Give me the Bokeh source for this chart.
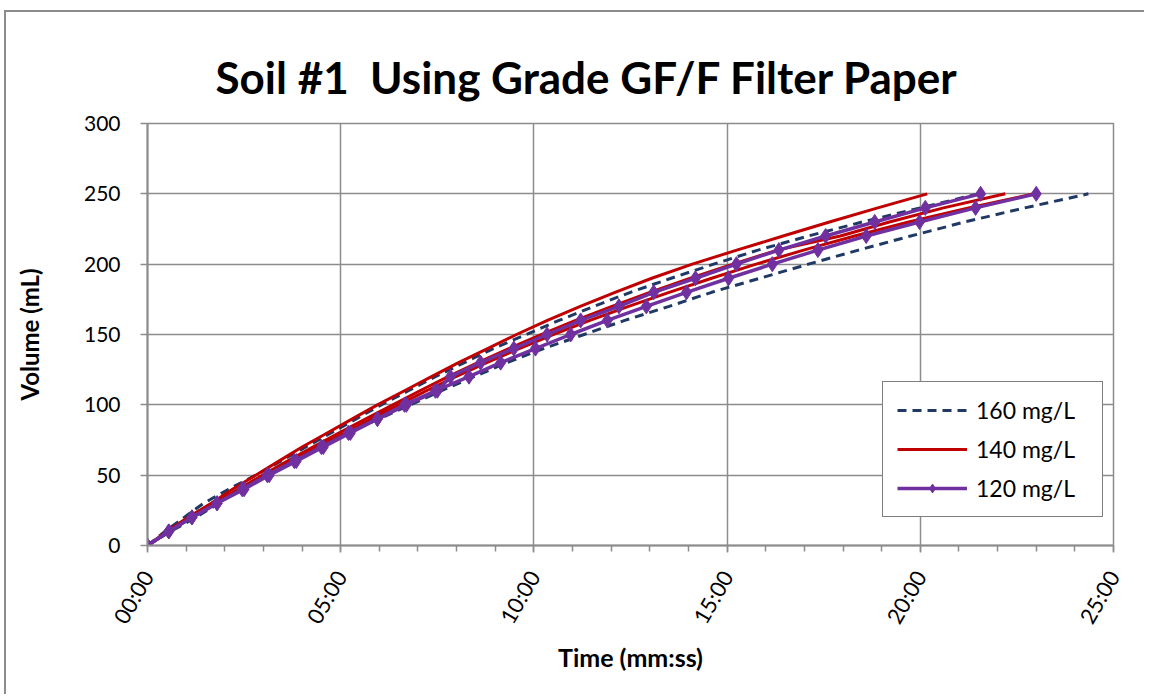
import math
from bokeh.plotting import figure
from bokeh.models import Range1d, FixedTicker, Legend, LegendItem
from bokeh.embed import file_html
from bokeh.resources import INLINE

# ---------------- data (time in minutes, volume in mL) ----------------
title_text = "Soil #1\u00a0 Using Grade GF/F Filter Paper"
x_title = "Time (mm:ss)"
y_title = "Volume (mL)"
x_ticks = [0, 5, 10, 15, 20, 25]
x_tick_labels = ["00:00", "05:00", "10:00", "15:00", "20:00", "25:00"]
x_minor_ticks = [0, 1, 2, 3, 4, 5, 6, 7, 8, 9, 10, 11, 12, 13, 14, 15, 16, 17, 18, 19, 20, 21, 22, 23, 24, 25]
y_ticks = [0, 50, 100, 150, 200, 250, 300]

volume = [0, 10, 20, 30, 40, 50, 60, 70, 80, 90, 100, 110, 120, 130, 140, 150,
          160, 170, 180, 190, 200, 210, 220, 230, 240, 250]

# 160 mg/L (two runs, dashed navy)
t160_a = [0, 0.45, 0.95, 1.45, 2.1, 2.8, 3.45, 4.1, 4.75, 5.4, 6.05, 6.75, 7.45, 8.2,
          8.95, 9.8, 10.65, 11.55, 12.5, 13.55, 14.65, 15.8, 17.1, 18.5, 20.0, 21.5]
t160_b = [0, 0.6, 1.25, 1.85, 2.35, 3.0, 3.7, 4.4, 5.12, 6.0, 6.8, 7.6, 8.45, 9.3,
          10.25, 11.3, 12.35, 13.5, 14.6, 15.85, 17.1, 18.4, 19.75, 21.15, 22.7, 24.35]

# 140 mg/L (three runs, solid red)
t140_a = [0, 0.5, 1.05, 1.65, 2.2, 2.8, 3.4, 4.0, 4.65, 5.3, 5.95, 6.65, 7.35, 8.05,
          8.8, 9.55, 10.35, 11.2, 12.1, 13.05, 14.1, 15.25, 16.45, 17.65, 18.9, 20.18]
t140_b = [0, 0.55, 1.12, 1.72, 2.35, 2.98, 3.62, 4.28, 4.95, 5.65, 6.35, 7.05, 7.78, 8.55,
          9.35, 10.2, 11.08, 12.02, 13.0, 14.05, 15.15, 16.3, 17.93, 19.2, 20.6, 22.2]
t140_c = [0, 0.55, 1.12, 1.75, 2.4, 3.05, 3.72, 4.4, 5.1, 5.8, 6.5, 7.22, 7.98, 8.78,
          9.62, 10.5, 11.45, 12.45, 13.5, 14.6, 15.75, 16.98, 18.3, 19.7, 21.25, 22.95]

# 120 mg/L (two runs, purple with diamonds)
t120_a = [0, 0.55, 1.15, 1.8, 2.45, 3.1, 3.8, 4.5, 5.2, 5.95, 6.7, 7.5, 7.84, 8.62,
          9.48, 10.34, 11.21, 12.2, 13.1, 14.18, 15.24, 16.34, 17.55, 18.82, 20.13, 21.56]
t120_b = [0, 0.55, 1.15, 1.8, 2.5, 3.15, 3.85, 4.55, 5.25, 5.95, 6.65, 7.45, 8.32, 9.14,
          10.04, 10.95, 11.9, 12.91, 13.95, 15.04, 16.17, 17.35, 18.6, 19.98, 21.43, 23.0]

NAVY = "#1F3864"
RED = "#C00000"
PURPLE = "#7030A0"
GRID = "#8C8C8C"
FONT = "Lato"

p = figure(width=1140, height=684, output_backend="svg", toolbar_location=None,
           x_range=Range1d(0, 25), y_range=Range1d(0, 300),
           min_border_left=141, min_border_right=33,
           min_border_top=111, min_border_bottom=151)
p.styles = {"border-top": "2px solid #8C8C8C", "border-left": "2px solid #8C8C8C",
            "margin-top": "10px", "margin-left": "4px"}
p.background_fill_color = "white"
p.border_fill_color = "white"
p.outline_line_color = GRID
p.outline_line_width = 1.5

# title
p.title.text = title_text
p.title.text_font = FONT
p.title.text_font_size = "44px"
p.title.text_font_style = "bold"
p.title.text_color = "black"
p.title.align = "left"
p.title.offset = 68
p.title.vertical_align = "top"
p.title.standoff = 37

# axes
for ax in (p.xaxis[0], p.yaxis[0]):
    ax.axis_line_color = GRID
    ax.axis_line_width = 2
    ax.major_tick_line_color = GRID
    ax.major_tick_line_width = 1.5
    ax.major_tick_in = 0
    ax.major_tick_out = 7
    ax.major_label_text_font = FONT
    ax.major_label_text_font_size = "21px"
    ax.major_label_text_color = "black"
    ax.axis_label_text_font = FONT
    ax.axis_label_text_font_size = "24px"
    ax.axis_label_text_font_style = "bold"
    ax.axis_label_text_color = "black"

p.xaxis.ticker = FixedTicker(ticks=x_ticks, minor_ticks=x_minor_ticks)
p.xaxis.major_label_overrides = dict(zip(x_ticks, x_tick_labels))
p.xaxis.major_label_orientation = math.pi / 3
p.xaxis.major_label_text_font_size = "22px"
p.xaxis.minor_tick_line_color = GRID
p.xaxis.minor_tick_line_width = 1.5
p.xaxis.minor_tick_in = 0
p.xaxis.minor_tick_out = 6
p.xaxis.major_label_standoff = 20
p.xaxis.axis_label = x_title
p.xaxis.axis_label_standoff = 4
p.xaxis.axis_label_text_font_size = "25px"

p.yaxis.ticker = FixedTicker(ticks=y_ticks)
p.yaxis.minor_tick_line_color = None
p.yaxis.major_label_standoff = 20
p.yaxis.axis_label = y_title
p.yaxis.axis_label_standoff = 37

p.xgrid.ticker = FixedTicker(ticks=x_ticks)
p.ygrid.ticker = FixedTicker(ticks=y_ticks)
for g in (p.xgrid[0], p.ygrid[0]):
    g.grid_line_color = GRID
    g.grid_line_width = 1.5

# series
r160 = []
for t in (t160_a, t160_b):
    r160.append(p.line(t, volume, line_color=NAVY, line_width=3, line_dash="9 6"))
r140 = []
for t in (t140_a, t140_b, t140_c):
    r140.append(p.line(t, volume, line_color=RED, line_width=3))
r120 = []
for t in (t120_a, t120_b):
    r120.append(p.line(t, volume, line_color=PURPLE, line_width=3.5))
    r120.append(p.scatter(t, volume, marker="diamond", size=15,
                          fill_color=PURPLE, line_color=PURPLE))

legend = Legend(items=[
    LegendItem(label="160 mg/L", renderers=[r160[0]]),
    LegendItem(label="140 mg/L", renderers=[r140[0]]),
    LegendItem(label="120 mg/L", renderers=[r120[0], r120[1]]),
], location=(735, 28))
legend.border_line_color = "black"
legend.border_line_width = 1.5
legend.background_fill_color = "white"
legend.background_fill_alpha = 1
legend.label_text_font = FONT
legend.label_text_font_size = "23px"
legend.label_text_color = "black"
legend.label_width = 112
legend.glyph_width = 70
legend.glyph_height = 22
legend.spacing = 11
legend.padding = 14
legend.margin = 0
legend.label_standoff = 9
p.add_layout(legend)

open("out.html", "w").write(file_html(p, INLINE))
